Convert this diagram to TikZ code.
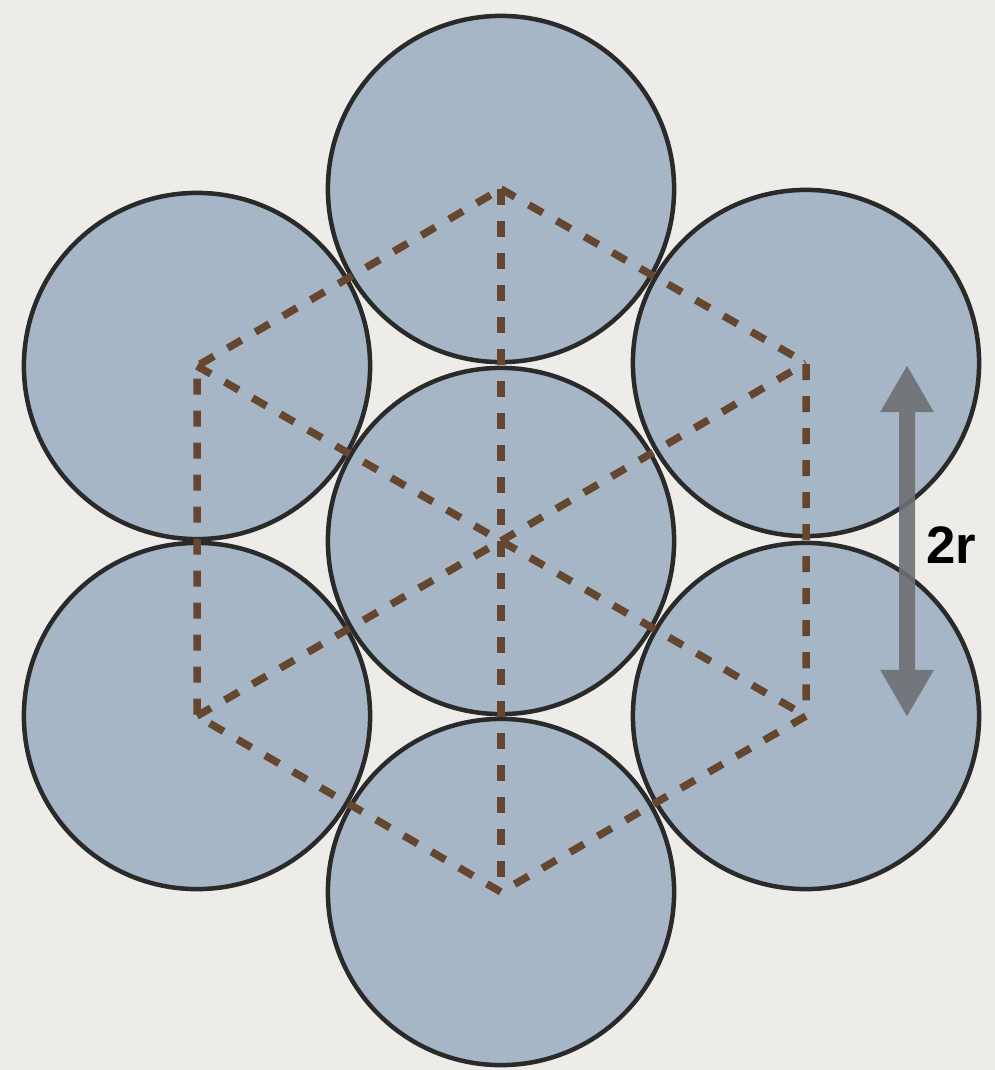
\documentclass[tikz,border=0pt]{standalone}
\usepackage{fontspec}
\setmainfont{Liberation Sans}
\usetikzlibrary{arrows.meta}
\definecolor{paper}{HTML}{EDECE8}
\definecolor{discfill}{HTML}{A6B6C6}
\definecolor{rim}{HTML}{2A2A2A}
\definecolor{linkbrown}{HTML}{65462F}
\definecolor{arrowgray}{HTML}{6E7175}

\begin{document}
\begin{tikzpicture}[
  x=0.01cm, y=-0.01cm,
  disc/.style={circle, draw=rim, fill=discfill, line width=0.045cm, minimum size=3.46cm, inner sep=0pt},
  link/.style={draw=linkbrown, line width=0.075cm, dash pattern=on 0.16cm off 0.16cm, line join=miter},
  span/.style={{Triangle[length=0.47cm, width=0.5cm]}-{Triangle[length=0.47cm, width=0.5cm]}, line width=0.16cm, draw=arrowgray},
]
% Paper
\fill[paper] (0,0) rectangle (995,1070);
\useasboundingbox (0,0) rectangle (995,1070);

% Discs
\node[disc] (c)   at (501,541) {};
\node[disc] (top) at (501,189) {};
\node[disc] (bot) at (501,892) {};
\node[disc] (ul)  at (197,366) {};
\node[disc] (ur)  at (806,363) {};
\node[disc] (ll)  at (197,716) {};
\node[disc] (lr)  at (806,716) {};

% Links between centres
\draw[link] (top.center) -- (ur.center) -- (lr.center) -- (bot.center) -- (ll.center) -- (ul.center) -- cycle;
\draw[link] (top.center) -- (bot.center);
\draw[link] (ll.center) -- (c.center) -- (lr.center);
\draw[link] (ul.center) -- (c.center);
\draw[link] (c.center) -- (ur.center);

% Size marker
\coordinate (s1) at (907,365);
\coordinate (s2) at (907,717);
\begin{scope}[transparency group, opacity=0.9]
\draw[span] (s1) -- (s2);
\end{scope}
\node[font=\bfseries\fontsize{15pt}{17pt}\selectfont, anchor=west] (lbl) at (914,545) {2r};
\end{tikzpicture}
\end{document}
